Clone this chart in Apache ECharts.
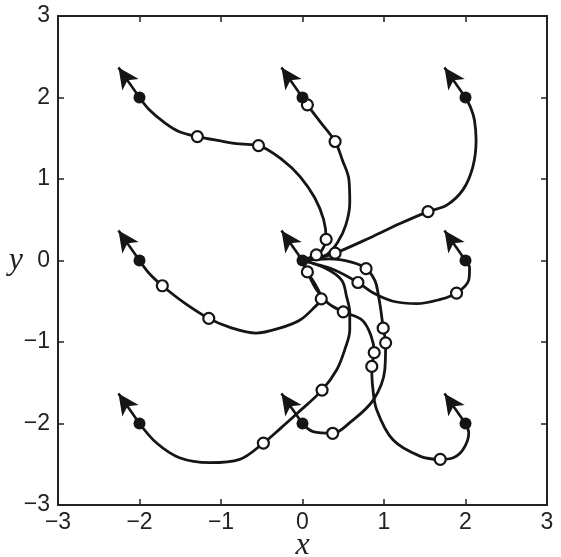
<!DOCTYPE html>
<html><head><meta charset="utf-8">
<script src="https://cdn.jsdelivr.net/npm/echarts@6/dist/echarts.min.js"></script>
<style>html,body{margin:0;padding:0;background:#fff}#c{width:561px;height:557px}</style>
</head><body><div id="c"></div>
<script>
// axis ticks
const xTicks = [-3, -2, -1, 0, 1, 2, 3];
const yTicks = [-3, -2, -1, 0, 1, 2, 3];

// start poses (all with the same heading) and the goal at the origin
const startPoints = [[-2, 2], [0, 2], [2, 2], [-2, 0], [0, 0], [2, 0], [-2, -2], [0, -2], [2, -2]];
const headingDeg = 125;
const arrowLen = 0.45;

// trajectories
const trajA = [[-2, 2], [-1.88, 1.85], [-1.69, 1.69], [-1.51, 1.58], [-1.29, 1.52], [-1.02, 1.47], [-0.77, 1.43], [-0.54, 1.41], [-0.24, 1.23], [-0.03, 1.03], [0.15, 0.77], [0.26, 0.50], [0.29, 0.26], [0.24, 0.13], [0.17, 0.07], [0, 0]];
const trajB = [[0, 2], [0.06, 1.91], [0.21, 1.71], [0.40, 1.46], [0.49, 1.23], [0.57, 0.99], [0.58, 0.71], [0.53, 0.43], [0.43, 0.22], [0.31, 0.08], [0.15, 0.02], [0, 0]];
const trajC = [[2, 2], [2.07, 1.86], [2.11, 1.72], [2.13, 1.48], [2.09, 1.15], [1.97, 0.87], [1.77, 0.68], [1.54, 0.60], [1.19, 0.45], [0.83, 0.28], [0.40, 0.09], [0.19, 0.03], [0, 0]];
const trajD = [[-2, 0], [-1.88, -0.16], [-1.72, -0.31], [-1.45, -0.52], [-1.15, -0.71], [-0.89, -0.82], [-0.57, -0.89], [-0.28, -0.83], [-0.03, -0.73], [0.15, -0.57], [0.23, -0.47], [0.16, -0.30], [0.06, -0.14], [0, 0]];
const trajF = [[2, 0], [2.05, -0.09], [2.04, -0.24], [1.89, -0.40], [1.68, -0.48], [1.40, -0.53], [1.11, -0.50], [0.87, -0.40], [0.68, -0.27], [0.40, -0.12], [0.15, -0.04], [0, 0]];
const trajG = [[0, -2], [0.13, -2.10], [0.37, -2.12], [0.58, -1.99], [0.87, -1.71], [1.01, -1.34], [1.02, -1.01], [0.99, -0.83], [0.96, -0.60], [0.93, -0.42], [0.89, -0.25], [0.78, -0.10], [0.60, -0.02], [0.33, 0.02], [0, 0]];
const trajH = [[2, -2], [2.04, -2.12], [1.97, -2.32], [1.85, -2.42], [1.69, -2.44], [1.44, -2.40], [1.11, -2.20], [0.91, -1.83], [0.86, -1.54], [0.85, -1.30], [0.88, -1.13], [0.84, -0.92], [0.73, -0.73], [0.50, -0.63], [0.31, -0.52], [0.16, -0.34], [0.06, -0.14], [0, 0]];
const trajI = [[-2, -2], [-1.79, -2.24], [-1.51, -2.42], [-1.14, -2.48], [-0.77, -2.44], [-0.48, -2.24], [-0.26, -2.05], [-0.07, -1.88], [0.24, -1.59], [0.42, -1.34], [0.52, -1.09], [0.58, -0.85], [0.58, -0.64], [0.54, -0.44], [0.48, -0.24], [0.27, -0.09], [0, 0]];

// open time markers along the paths
const timeMarks = [
  [-1.29, 1.52], [-0.54, 1.41], [0.29, 0.26], [0.17, 0.07],
  [0.06, 1.91], [0.40, 1.46],
  [1.54, 0.60], [0.40, 0.09],
  [-1.72, -0.31], [-1.15, -0.71], [0.23, -0.47], [0.06, -0.14],
  [1.89, -0.40], [0.68, -0.27],
  [0.37, -2.12], [1.02, -1.01], [0.99, -0.83], [0.78, -0.10],
  [1.69, -2.44], [0.85, -1.30], [0.88, -1.13], [0.50, -0.63],
  [-0.48, -2.24], [0.24, -1.59]
];

const trajectories = [trajA, trajB, trajC, trajD, trajF, trajG, trajH, trajI];
const ink = '#151515';
const fmt = v => (v < 0 ? '\u2212' + Math.abs(v) : String(v));

const th = headingDeg * Math.PI / 180;
const arrowLines = startPoints.map(p => [
  { coord: p },
  { coord: [p[0] + arrowLen * Math.cos(th), p[1] + arrowLen * Math.sin(th)] }
]);

const baseAxis = {
  type: 'value', min: -3, max: 3, interval: 1,
  splitLine: { show: false },
  axisLine: { show: true, onZero: false, lineStyle: { color: '#222', width: 2 } },
  axisTick: { show: true, inside: true, length: 6, lineStyle: { color: '#222', width: 1.5 } }
};
const labelStyle = { color: '#222', fontFamily: 'Liberation Sans, Arial, sans-serif', fontSize: 23, formatter: fmt };
const nameStyle = { fontFamily: 'Liberation Serif, DejaVu Serif, serif', fontStyle: 'italic', fontSize: 32, color: '#222' };

const series = trajectories.map(t => ({
  type: 'line', data: t, smooth: 0.35, symbol: 'none', silent: true,
  lineStyle: { color: ink, width: 2.8, opacity: 1 }, z: 2
}));
series.push({
  type: 'scatter', data: timeMarks, symbol: 'circle', symbolSize: 11, silent: true,
  itemStyle: { color: '#fff', borderColor: ink, borderWidth: 2.2, opacity: 1 }, z: 5
});
series.push({
  type: 'scatter', data: startPoints, symbol: 'circle', symbolSize: 12, silent: true,
  itemStyle: { color: ink, opacity: 1 }, z: 6,
  markLine: {
    silent: true, symbol: ['none', 'arrow'], symbolSize: [15, 21],
    label: { show: false },
    lineStyle: { color: ink, width: 2.6, type: 'solid', opacity: 1 },
    emphasis: { disabled: true },
    data: arrowLines
  }
});

const chart = echarts.init(document.getElementById('c'));
chart.setOption({
  animation: false,
  backgroundColor: '#fff',
  grid: { left: 58, right: 14, top: 16, bottom: 52, containLabel: false, outerBoundsMode: 'none' },
  xAxis: [
    Object.assign({}, baseAxis, {
      position: 'bottom',
      axisLabel: Object.assign({ margin: 6 }, labelStyle),
      name: 'x', nameLocation: 'middle', nameGap: 25, nameMoveOverlap: false, nameTextStyle: nameStyle
    }),
    Object.assign({}, baseAxis, { position: 'top', axisLabel: { show: false } })
  ],
  yAxis: [
    Object.assign({}, baseAxis, {
      position: 'left',
      axisLabel: Object.assign({ margin: 8 }, labelStyle),
      name: 'y', nameLocation: 'middle', nameGap: 35, nameRotate: 0, nameMoveOverlap: false, nameTextStyle: nameStyle
    }),
    Object.assign({}, baseAxis, { position: 'right', axisLabel: { show: false } })
  ],
  series: series
});
</script></body></html>
